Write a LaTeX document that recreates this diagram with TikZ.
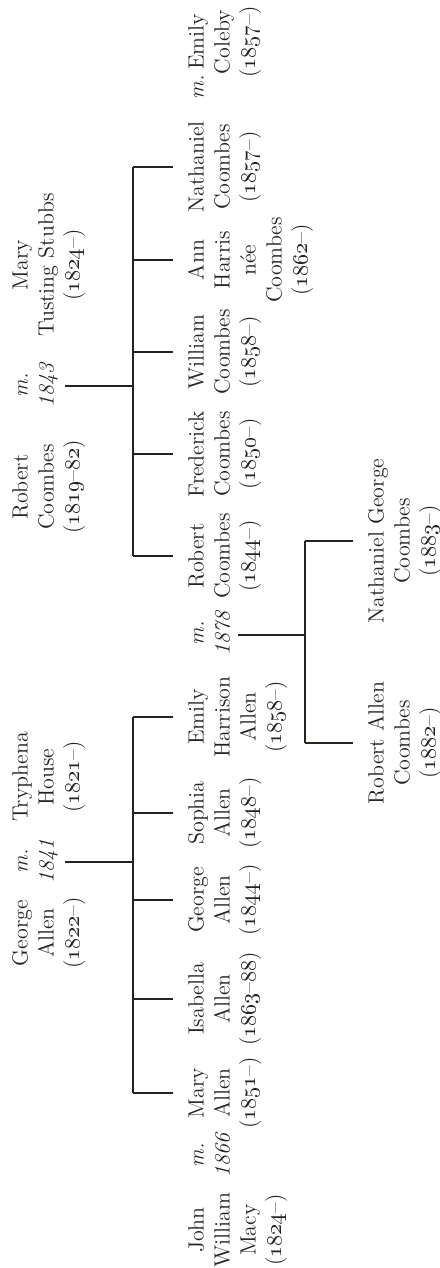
\documentclass[tikz,border=0pt]{standalone}
\definecolor{ink}{HTML}{26231F}
\newcommand\yr[1]{\oldstylenums{#1}}
\begin{document}
\begin{tikzpicture}[x=0.5pt,y=-0.5pt,
  person/.style={rotate=90,anchor=north,align=center,inner sep=0pt,
    font=\fontsize{11}{13}\selectfont,text=ink},
  marr/.style={person,font=\fontsize{11}{13}\selectfont\itshape},
  tie/.style={draw=ink,line width=1.1pt}]
\fill[white] (0,0) rectangle (439,1268);
\useasboundingbox (0,0) rectangle (439,1268);

% ---------- parents (column A) ----------
\node[person] (maryts)  at (9,265)  {\strut Mary\\Tusting Stubbs\\(\yr{1824}--)};
\node[marr]   (m1843)   at (9,385)  {\strut m.\\1843};
\node[person] (robsr)   at (9,487)  {\strut Robert\\Coombes\\(\yr{1819}--\yr{82})};
\node[person] (tryph)   at (9,777)  {\strut Tryphena\\House\\(\yr{1821}--)};
\node[marr]   (m1841)   at (9,861)  {\strut m.\\1841};
\node[person] (geosr)   at (9,933)  {\strut George\\Allen\\(\yr{1822}--)};

% ---------- children (column B) ----------
\node[person] (emilyc)  at (185,42)   {\strut Emily\\Coleby\\(\yr{1857}--)};
\node[marr]   (mec)     at (185,87)   {\strut m.};
\node[person] (nath)    at (185,167)  {\strut Nathaniel\\Coombes\\(\yr{1857}--)};
\node[person] (ann)     at (185,260)  {\strut Ann\\Harris\\née\\Coombes\\(\yr{1862}--)};
\node[person] (will)    at (185,352)  {\strut William\\Coombes\\(\yr{1858}--)};
\node[person] (fred)    at (185,454)  {\strut Frederick\\Coombes\\(\yr{1850}--)};
\node[person] (robjr)   at (185,556)  {\strut Robert\\Coombes\\(\yr{1844}--)};
\node[marr]   (m1878)   at (185,633)  {\strut m.\\1878};
\node[person] (emilyh)  at (185,717)  {\strut Emily\\Harrison\\Allen\\(\yr{1858}--)};
\node[person] (sophia)  at (185,813)  {\strut Sophia\\Allen\\(\yr{1848}--)};
\node[person] (geojr)   at (185,900)  {\strut George\\Allen\\(\yr{1844}--)};
\node[person] (isab)    at (185,999)  {\strut Isabella\\Allen\\(\yr{1863}--\yr{88})};
\node[person] (marya)   at (185,1093) {\strut Mary\\Allen\\(\yr{1851}--)};
\node[marr]   (m1866)   at (185,1155) {\strut m.\\1866};
\node[person] (john)    at (185,1230) {\strut John\\William\\Macy\\(\yr{1824}--)};

% ---------- grandchildren (column C) ----------
\node[person] (nathg)   at (365,541) {\strut Nathaniel George\\Coombes\\(\yr{1883}--)};
\node[person] (robac)   at (365,743) {\strut Robert Allen\\Coombes\\(\yr{1882}--)};

% ---------- junctions ----------
\coordinate (ca) at (65,386);   \coordinate (cb) at (133,386);
\coordinate (aa) at (65,862);   \coordinate (ab) at (133,862);
\coordinate (ga) at (238,635);  \coordinate (gb) at (305,635);

% Coombes family
\draw[tie] (ca) -- (cb);
\draw[tie] (133,167) -- (133,556);
\foreach \n in {nath,ann,will,fred,robjr}
  \draw[tie] (133,0 |- \n) -- ([xshift=-6pt]\n.north);
% Allen family
\draw[tie] (aa) -- (ab);
\draw[tie] (133,717) -- (133,1093);
\foreach \n in {emilyh,sophia,geojr,isab,marya}
  \draw[tie] (133,0 |- \n) -- ([xshift=-6pt]\n.north);
% Coombes--Allen
\draw[tie] (ga) -- (gb);
\draw[tie] (305,541) -- (305,743);
\foreach \n in {nathg,robac}
  \draw[tie] (305,0 |- \n) -- ([xshift=-6pt]\n.north);
\end{tikzpicture}
\end{document}
